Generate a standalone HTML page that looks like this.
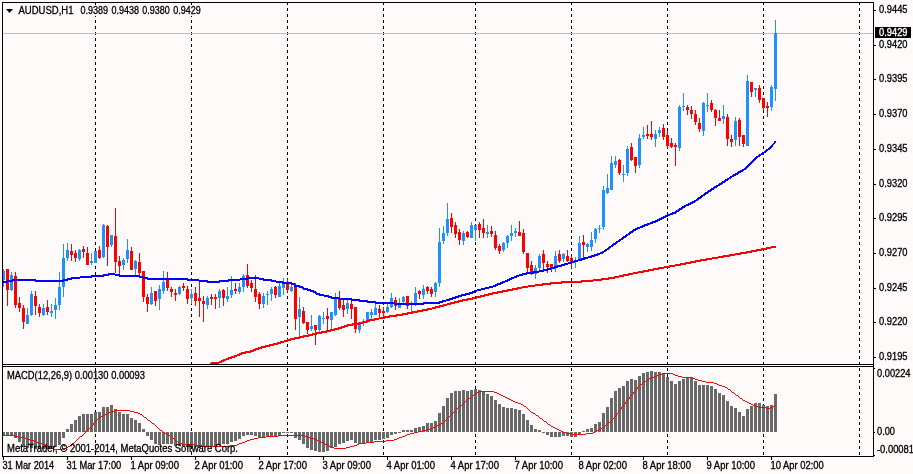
<!DOCTYPE html>
<html><head><meta charset="utf-8"><title>AUDUSD,H1</title>
<style>html,body{margin:0;padding:0;background:#FFFAFA;overflow:hidden}svg{display:block}text{font-family:"Liberation Sans",sans-serif;font-size:10px;fill:#000;stroke:#000;stroke-width:0.3px}.c{shape-rendering:crispEdges}</style></head><body>
<svg width="913" height="474" viewBox="0 0 913 474">
<rect x="0" y="0" width="913" height="474" fill="#FFFAFA"/>
<g class="c">
<line x1="95.5" y1="3" x2="95.5" y2="364" stroke="#000" stroke-width="1" stroke-dasharray="3 3" stroke-dashoffset="1"/>
<line x1="95.5" y1="367" x2="95.5" y2="456" stroke="#000" stroke-width="1" stroke-dasharray="3 3" stroke-dashoffset="5"/>
<line x1="191.5" y1="3" x2="191.5" y2="364" stroke="#000" stroke-width="1" stroke-dasharray="3 3" stroke-dashoffset="1"/>
<line x1="191.5" y1="367" x2="191.5" y2="456" stroke="#000" stroke-width="1" stroke-dasharray="3 3" stroke-dashoffset="5"/>
<line x1="287.5" y1="3" x2="287.5" y2="364" stroke="#000" stroke-width="1" stroke-dasharray="3 3" stroke-dashoffset="1"/>
<line x1="287.5" y1="367" x2="287.5" y2="456" stroke="#000" stroke-width="1" stroke-dasharray="3 3" stroke-dashoffset="5"/>
<line x1="383.5" y1="3" x2="383.5" y2="364" stroke="#000" stroke-width="1" stroke-dasharray="3 3" stroke-dashoffset="1"/>
<line x1="383.5" y1="367" x2="383.5" y2="456" stroke="#000" stroke-width="1" stroke-dasharray="3 3" stroke-dashoffset="5"/>
<line x1="475.5" y1="3" x2="475.5" y2="364" stroke="#000" stroke-width="1" stroke-dasharray="3 3" stroke-dashoffset="1"/>
<line x1="475.5" y1="367" x2="475.5" y2="456" stroke="#000" stroke-width="1" stroke-dasharray="3 3" stroke-dashoffset="5"/>
<line x1="571.5" y1="3" x2="571.5" y2="364" stroke="#000" stroke-width="1" stroke-dasharray="3 3" stroke-dashoffset="1"/>
<line x1="571.5" y1="367" x2="571.5" y2="456" stroke="#000" stroke-width="1" stroke-dasharray="3 3" stroke-dashoffset="5"/>
<line x1="667.5" y1="3" x2="667.5" y2="364" stroke="#000" stroke-width="1" stroke-dasharray="3 3" stroke-dashoffset="1"/>
<line x1="667.5" y1="367" x2="667.5" y2="456" stroke="#000" stroke-width="1" stroke-dasharray="3 3" stroke-dashoffset="5"/>
<line x1="763.5" y1="3" x2="763.5" y2="364" stroke="#000" stroke-width="1" stroke-dasharray="3 3" stroke-dashoffset="1"/>
<line x1="763.5" y1="367" x2="763.5" y2="456" stroke="#000" stroke-width="1" stroke-dasharray="3 3" stroke-dashoffset="5"/>
<line x1="859.5" y1="3" x2="859.5" y2="364" stroke="#000" stroke-width="1" stroke-dasharray="3 3" stroke-dashoffset="1"/>
<line x1="859.5" y1="367" x2="859.5" y2="456" stroke="#000" stroke-width="1" stroke-dasharray="3 3" stroke-dashoffset="5"/>
<rect x="3" y="33" width="870" height="1" fill="#C0C0C0"/>
<rect x="3" y="269" width="1" height="18" fill="#1E90FF"/>
<rect x="3" y="271" width="2" height="9" fill="#1E90FF"/>
<rect x="7" y="269" width="1" height="37" fill="#FF0000"/>
<rect x="6" y="269" width="3" height="21" fill="#FF0000"/>
<rect x="11" y="272" width="1" height="19" fill="#1E90FF"/>
<rect x="10" y="275" width="3" height="15" fill="#1E90FF"/>
<rect x="15" y="272" width="1" height="36" fill="#FF0000"/>
<rect x="14" y="276" width="3" height="29" fill="#FF0000"/>
<rect x="19" y="297" width="1" height="15" fill="#FF0000"/>
<rect x="18" y="303" width="3" height="5" fill="#FF0000"/>
<rect x="23" y="305" width="1" height="24" fill="#FF0000"/>
<rect x="22" y="308" width="3" height="14" fill="#FF0000"/>
<rect x="27" y="308" width="1" height="16" fill="#1E90FF"/>
<rect x="26" y="315" width="3" height="9" fill="#1E90FF"/>
<rect x="31" y="291" width="1" height="25" fill="#1E90FF"/>
<rect x="30" y="294" width="3" height="21" fill="#1E90FF"/>
<rect x="35" y="291" width="1" height="24" fill="#FF0000"/>
<rect x="34" y="296" width="3" height="10" fill="#FF0000"/>
<rect x="39" y="304" width="1" height="13" fill="#FF0000"/>
<rect x="38" y="307" width="3" height="6" fill="#FF0000"/>
<rect x="43" y="304" width="1" height="12" fill="#1E90FF"/>
<rect x="42" y="308" width="3" height="7" fill="#1E90FF"/>
<rect x="47" y="300" width="1" height="15" fill="#FF0000"/>
<rect x="46" y="307" width="3" height="5" fill="#FF0000"/>
<rect x="51" y="304" width="1" height="13" fill="#1E90FF"/>
<rect x="50" y="311" width="3" height="2" fill="#1E90FF"/>
<rect x="55" y="298" width="1" height="21" fill="#1E90FF"/>
<rect x="54" y="305" width="3" height="5" fill="#1E90FF"/>
<rect x="59" y="272" width="1" height="38" fill="#1E90FF"/>
<rect x="58" y="287" width="3" height="18" fill="#1E90FF"/>
<rect x="63" y="244" width="1" height="53" fill="#1E90FF"/>
<rect x="62" y="258" width="3" height="29" fill="#1E90FF"/>
<rect x="67" y="243" width="1" height="18" fill="#1E90FF"/>
<rect x="66" y="250" width="3" height="8" fill="#1E90FF"/>
<rect x="71" y="244" width="1" height="17" fill="#FF0000"/>
<rect x="70" y="251" width="3" height="4" fill="#FF0000"/>
<rect x="75" y="250" width="1" height="12" fill="#FF0000"/>
<rect x="74" y="253" width="3" height="5" fill="#FF0000"/>
<rect x="79" y="249" width="1" height="12" fill="#1E90FF"/>
<rect x="78" y="250" width="3" height="9" fill="#1E90FF"/>
<rect x="83" y="246" width="1" height="12" fill="#FF0000"/>
<rect x="82" y="249" width="3" height="3" fill="#FF0000"/>
<rect x="87" y="247" width="1" height="18" fill="#FF0000"/>
<rect x="86" y="253" width="3" height="12" fill="#FF0000"/>
<rect x="91" y="253" width="1" height="12" fill="#1E90FF"/>
<rect x="90" y="261" width="3" height="2" fill="#1E90FF"/>
<rect x="95" y="251" width="1" height="12" fill="#1E90FF"/>
<rect x="94" y="251" width="3" height="12" fill="#1E90FF"/>
<rect x="99" y="246" width="1" height="13" fill="#FF0000"/>
<rect x="98" y="250" width="3" height="8" fill="#FF0000"/>
<rect x="103" y="224" width="1" height="34" fill="#1E90FF"/>
<rect x="102" y="225" width="3" height="32" fill="#1E90FF"/>
<rect x="107" y="225" width="1" height="41" fill="#FF0000"/>
<rect x="106" y="226" width="3" height="21" fill="#FF0000"/>
<rect x="111" y="235" width="1" height="12" fill="#1E90FF"/>
<rect x="110" y="235" width="3" height="10" fill="#1E90FF"/>
<rect x="115" y="208" width="1" height="65" fill="#FF0000"/>
<rect x="114" y="236" width="3" height="26" fill="#FF0000"/>
<rect x="119" y="256" width="1" height="19" fill="#FF0000"/>
<rect x="118" y="261" width="3" height="5" fill="#FF0000"/>
<rect x="123" y="258" width="1" height="12" fill="#1E90FF"/>
<rect x="122" y="260" width="3" height="5" fill="#1E90FF"/>
<rect x="127" y="239" width="1" height="24" fill="#1E90FF"/>
<rect x="126" y="250" width="3" height="9" fill="#1E90FF"/>
<rect x="131" y="247" width="1" height="23" fill="#FF0000"/>
<rect x="130" y="251" width="3" height="19" fill="#FF0000"/>
<rect x="135" y="260" width="1" height="15" fill="#1E90FF"/>
<rect x="134" y="261" width="3" height="8" fill="#1E90FF"/>
<rect x="139" y="253" width="1" height="22" fill="#FF0000"/>
<rect x="138" y="262" width="3" height="11" fill="#FF0000"/>
<rect x="143" y="271" width="1" height="31" fill="#FF0000"/>
<rect x="142" y="271" width="3" height="26" fill="#FF0000"/>
<rect x="147" y="294" width="1" height="18" fill="#FF0000"/>
<rect x="146" y="297" width="3" height="7" fill="#FF0000"/>
<rect x="151" y="287" width="1" height="18" fill="#1E90FF"/>
<rect x="150" y="293" width="3" height="11" fill="#1E90FF"/>
<rect x="155" y="291" width="1" height="15" fill="#FF0000"/>
<rect x="154" y="291" width="3" height="10" fill="#FF0000"/>
<rect x="159" y="285" width="1" height="25" fill="#1E90FF"/>
<rect x="158" y="289" width="3" height="10" fill="#1E90FF"/>
<rect x="163" y="271" width="1" height="23" fill="#1E90FF"/>
<rect x="162" y="282" width="3" height="9" fill="#1E90FF"/>
<rect x="167" y="272" width="1" height="19" fill="#FF0000"/>
<rect x="166" y="279" width="3" height="9" fill="#FF0000"/>
<rect x="171" y="287" width="1" height="10" fill="#FF0000"/>
<rect x="170" y="289" width="3" height="3" fill="#FF0000"/>
<rect x="175" y="289" width="1" height="12" fill="#FF0000"/>
<rect x="174" y="293" width="3" height="2" fill="#FF0000"/>
<rect x="179" y="286" width="1" height="9" fill="#1E90FF"/>
<rect x="178" y="287" width="3" height="7" fill="#1E90FF"/>
<rect x="183" y="283" width="1" height="8" fill="#FF0000"/>
<rect x="182" y="286" width="3" height="2" fill="#FF0000"/>
<rect x="187" y="286" width="1" height="18" fill="#FF0000"/>
<rect x="186" y="289" width="3" height="10" fill="#FF0000"/>
<rect x="191" y="289" width="1" height="15" fill="#1E90FF"/>
<rect x="190" y="294" width="3" height="4" fill="#1E90FF"/>
<rect x="195" y="287" width="1" height="19" fill="#FF0000"/>
<rect x="194" y="293" width="3" height="8" fill="#FF0000"/>
<rect x="199" y="282" width="1" height="35" fill="#FF0000"/>
<rect x="198" y="298" width="3" height="3" fill="#FF0000"/>
<rect x="203" y="296" width="1" height="26" fill="#FF0000"/>
<rect x="202" y="301" width="3" height="3" fill="#FF0000"/>
<rect x="207" y="296" width="1" height="13" fill="#1E90FF"/>
<rect x="206" y="298" width="3" height="7" fill="#1E90FF"/>
<rect x="211" y="294" width="1" height="11" fill="#FF0000"/>
<rect x="210" y="297" width="3" height="2" fill="#FF0000"/>
<rect x="215" y="294" width="1" height="15" fill="#FF0000"/>
<rect x="214" y="297" width="3" height="2" fill="#FF0000"/>
<rect x="219" y="289" width="1" height="19" fill="#1E90FF"/>
<rect x="218" y="291" width="3" height="7" fill="#1E90FF"/>
<rect x="223" y="289" width="1" height="17" fill="#FF0000"/>
<rect x="222" y="290" width="3" height="8" fill="#FF0000"/>
<rect x="227" y="287" width="1" height="15" fill="#1E90FF"/>
<rect x="226" y="296" width="3" height="3" fill="#1E90FF"/>
<rect x="231" y="276" width="1" height="22" fill="#1E90FF"/>
<rect x="230" y="290" width="3" height="5" fill="#1E90FF"/>
<rect x="235" y="283" width="1" height="11" fill="#FF0000"/>
<rect x="234" y="289" width="3" height="2" fill="#FF0000"/>
<rect x="239" y="283" width="1" height="11" fill="#1E90FF"/>
<rect x="238" y="287" width="3" height="5" fill="#1E90FF"/>
<rect x="243" y="274" width="1" height="18" fill="#1E90FF"/>
<rect x="242" y="276" width="3" height="11" fill="#1E90FF"/>
<rect x="247" y="264" width="1" height="24" fill="#FF0000"/>
<rect x="246" y="275" width="3" height="11" fill="#FF0000"/>
<rect x="251" y="280" width="1" height="12" fill="#FF0000"/>
<rect x="250" y="283" width="3" height="5" fill="#FF0000"/>
<rect x="255" y="275" width="1" height="27" fill="#FF0000"/>
<rect x="254" y="289" width="3" height="8" fill="#FF0000"/>
<rect x="259" y="292" width="1" height="17" fill="#FF0000"/>
<rect x="258" y="294" width="3" height="10" fill="#FF0000"/>
<rect x="263" y="293" width="1" height="15" fill="#1E90FF"/>
<rect x="262" y="296" width="3" height="8" fill="#1E90FF"/>
<rect x="267" y="291" width="1" height="14" fill="#1E90FF"/>
<rect x="266" y="294" width="3" height="1" fill="#1E90FF"/>
<rect x="271" y="287" width="1" height="14" fill="#1E90FF"/>
<rect x="270" y="289" width="3" height="5" fill="#1E90FF"/>
<rect x="275" y="286" width="1" height="12" fill="#FF0000"/>
<rect x="274" y="287" width="3" height="8" fill="#FF0000"/>
<rect x="279" y="283" width="1" height="14" fill="#1E90FF"/>
<rect x="278" y="286" width="3" height="11" fill="#1E90FF"/>
<rect x="283" y="278" width="1" height="17" fill="#1E90FF"/>
<rect x="282" y="283" width="3" height="5" fill="#1E90FF"/>
<rect x="287" y="279" width="1" height="13" fill="#FF0000"/>
<rect x="286" y="283" width="3" height="7" fill="#FF0000"/>
<rect x="291" y="285" width="1" height="7" fill="#1E90FF"/>
<rect x="290" y="287" width="3" height="4" fill="#1E90FF"/>
<rect x="295" y="283" width="1" height="47" fill="#FF0000"/>
<rect x="294" y="286" width="3" height="33" fill="#FF0000"/>
<rect x="299" y="297" width="1" height="39" fill="#1E90FF"/>
<rect x="298" y="309" width="3" height="8" fill="#1E90FF"/>
<rect x="303" y="307" width="1" height="17" fill="#FF0000"/>
<rect x="302" y="311" width="3" height="12" fill="#FF0000"/>
<rect x="307" y="322" width="1" height="12" fill="#FF0000"/>
<rect x="306" y="322" width="3" height="8" fill="#FF0000"/>
<rect x="311" y="315" width="1" height="16" fill="#1E90FF"/>
<rect x="310" y="326" width="3" height="3" fill="#1E90FF"/>
<rect x="315" y="325" width="1" height="20" fill="#FF0000"/>
<rect x="314" y="325" width="3" height="5" fill="#FF0000"/>
<rect x="319" y="315" width="1" height="17" fill="#1E90FF"/>
<rect x="318" y="316" width="3" height="14" fill="#1E90FF"/>
<rect x="323" y="312" width="1" height="12" fill="#1E90FF"/>
<rect x="322" y="318" width="3" height="1" fill="#1E90FF"/>
<rect x="327" y="308" width="1" height="22" fill="#FF0000"/>
<rect x="326" y="316" width="3" height="3" fill="#FF0000"/>
<rect x="331" y="312" width="1" height="17" fill="#1E90FF"/>
<rect x="330" y="312" width="3" height="8" fill="#1E90FF"/>
<rect x="335" y="293" width="1" height="23" fill="#1E90FF"/>
<rect x="334" y="299" width="3" height="16" fill="#1E90FF"/>
<rect x="339" y="291" width="1" height="19" fill="#FF0000"/>
<rect x="338" y="299" width="3" height="9" fill="#FF0000"/>
<rect x="343" y="300" width="1" height="17" fill="#FF0000"/>
<rect x="342" y="305" width="3" height="5" fill="#FF0000"/>
<rect x="347" y="300" width="1" height="14" fill="#1E90FF"/>
<rect x="346" y="303" width="3" height="6" fill="#1E90FF"/>
<rect x="351" y="301" width="1" height="18" fill="#FF0000"/>
<rect x="350" y="304" width="3" height="5" fill="#FF0000"/>
<rect x="355" y="307" width="1" height="26" fill="#FF0000"/>
<rect x="354" y="307" width="3" height="22" fill="#FF0000"/>
<rect x="359" y="322" width="1" height="11" fill="#1E90FF"/>
<rect x="358" y="322" width="3" height="8" fill="#1E90FF"/>
<rect x="363" y="319" width="1" height="7" fill="#1E90FF"/>
<rect x="362" y="321" width="3" height="2" fill="#1E90FF"/>
<rect x="367" y="312" width="1" height="11" fill="#1E90FF"/>
<rect x="366" y="312" width="3" height="8" fill="#1E90FF"/>
<rect x="371" y="309" width="1" height="10" fill="#1E90FF"/>
<rect x="370" y="312" width="3" height="3" fill="#1E90FF"/>
<rect x="375" y="304" width="1" height="11" fill="#1E90FF"/>
<rect x="374" y="308" width="3" height="7" fill="#1E90FF"/>
<rect x="379" y="305" width="1" height="13" fill="#FF0000"/>
<rect x="378" y="309" width="3" height="4" fill="#FF0000"/>
<rect x="383" y="307" width="1" height="10" fill="#FF0000"/>
<rect x="382" y="311" width="3" height="2" fill="#FF0000"/>
<rect x="387" y="304" width="1" height="9" fill="#1E90FF"/>
<rect x="386" y="307" width="3" height="5" fill="#1E90FF"/>
<rect x="391" y="293" width="1" height="15" fill="#1E90FF"/>
<rect x="390" y="298" width="3" height="9" fill="#1E90FF"/>
<rect x="395" y="297" width="1" height="13" fill="#FF0000"/>
<rect x="394" y="300" width="3" height="6" fill="#FF0000"/>
<rect x="399" y="298" width="1" height="10" fill="#1E90FF"/>
<rect x="398" y="303" width="3" height="5" fill="#1E90FF"/>
<rect x="403" y="296" width="1" height="9" fill="#1E90FF"/>
<rect x="402" y="297" width="3" height="5" fill="#1E90FF"/>
<rect x="407" y="296" width="1" height="13" fill="#FF0000"/>
<rect x="406" y="296" width="3" height="10" fill="#FF0000"/>
<rect x="411" y="301" width="1" height="11" fill="#1E90FF"/>
<rect x="410" y="303" width="3" height="1" fill="#1E90FF"/>
<rect x="415" y="287" width="1" height="19" fill="#1E90FF"/>
<rect x="414" y="293" width="3" height="10" fill="#1E90FF"/>
<rect x="419" y="290" width="1" height="9" fill="#FF0000"/>
<rect x="418" y="291" width="3" height="3" fill="#FF0000"/>
<rect x="423" y="285" width="1" height="14" fill="#1E90FF"/>
<rect x="422" y="289" width="3" height="6" fill="#1E90FF"/>
<rect x="427" y="286" width="1" height="8" fill="#FF0000"/>
<rect x="426" y="287" width="3" height="4" fill="#FF0000"/>
<rect x="431" y="287" width="1" height="10" fill="#FF0000"/>
<rect x="430" y="289" width="3" height="5" fill="#FF0000"/>
<rect x="435" y="282" width="1" height="15" fill="#1E90FF"/>
<rect x="434" y="283" width="3" height="9" fill="#1E90FF"/>
<rect x="439" y="228" width="1" height="59" fill="#1E90FF"/>
<rect x="438" y="242" width="3" height="41" fill="#1E90FF"/>
<rect x="443" y="226" width="1" height="18" fill="#1E90FF"/>
<rect x="442" y="233" width="3" height="8" fill="#1E90FF"/>
<rect x="447" y="203" width="1" height="33" fill="#1E90FF"/>
<rect x="446" y="219" width="3" height="14" fill="#1E90FF"/>
<rect x="451" y="213" width="1" height="20" fill="#FF0000"/>
<rect x="450" y="218" width="3" height="9" fill="#FF0000"/>
<rect x="455" y="222" width="1" height="16" fill="#FF0000"/>
<rect x="454" y="225" width="3" height="9" fill="#FF0000"/>
<rect x="459" y="229" width="1" height="16" fill="#FF0000"/>
<rect x="458" y="232" width="3" height="8" fill="#FF0000"/>
<rect x="463" y="231" width="1" height="14" fill="#1E90FF"/>
<rect x="462" y="233" width="3" height="8" fill="#1E90FF"/>
<rect x="467" y="231" width="1" height="7" fill="#FF0000"/>
<rect x="466" y="232" width="3" height="5" fill="#FF0000"/>
<rect x="471" y="222" width="1" height="16" fill="#1E90FF"/>
<rect x="470" y="225" width="3" height="13" fill="#1E90FF"/>
<rect x="475" y="225" width="1" height="16" fill="#1E90FF"/>
<rect x="474" y="225" width="3" height="5" fill="#1E90FF"/>
<rect x="479" y="222" width="1" height="16" fill="#FF0000"/>
<rect x="478" y="224" width="3" height="6" fill="#FF0000"/>
<rect x="483" y="219" width="1" height="19" fill="#FF0000"/>
<rect x="482" y="228" width="3" height="5" fill="#FF0000"/>
<rect x="487" y="225" width="1" height="13" fill="#1E90FF"/>
<rect x="486" y="232" width="3" height="2" fill="#1E90FF"/>
<rect x="491" y="226" width="1" height="11" fill="#FF0000"/>
<rect x="490" y="231" width="3" height="3" fill="#FF0000"/>
<rect x="495" y="231" width="1" height="19" fill="#FF0000"/>
<rect x="494" y="235" width="3" height="13" fill="#FF0000"/>
<rect x="499" y="244" width="1" height="10" fill="#FF0000"/>
<rect x="498" y="246" width="3" height="5" fill="#FF0000"/>
<rect x="503" y="242" width="1" height="10" fill="#1E90FF"/>
<rect x="502" y="243" width="3" height="7" fill="#1E90FF"/>
<rect x="507" y="235" width="1" height="13" fill="#1E90FF"/>
<rect x="506" y="236" width="3" height="7" fill="#1E90FF"/>
<rect x="511" y="225" width="1" height="16" fill="#1E90FF"/>
<rect x="510" y="233" width="3" height="3" fill="#1E90FF"/>
<rect x="515" y="228" width="1" height="9" fill="#1E90FF"/>
<rect x="514" y="231" width="3" height="2" fill="#1E90FF"/>
<rect x="519" y="221" width="1" height="15" fill="#FF0000"/>
<rect x="518" y="232" width="3" height="4" fill="#FF0000"/>
<rect x="523" y="229" width="1" height="25" fill="#FF0000"/>
<rect x="522" y="233" width="3" height="19" fill="#FF0000"/>
<rect x="527" y="253" width="1" height="20" fill="#FF0000"/>
<rect x="526" y="253" width="3" height="15" fill="#FF0000"/>
<rect x="531" y="261" width="1" height="14" fill="#FF0000"/>
<rect x="530" y="265" width="3" height="7" fill="#FF0000"/>
<rect x="535" y="265" width="1" height="14" fill="#1E90FF"/>
<rect x="534" y="268" width="3" height="6" fill="#1E90FF"/>
<rect x="539" y="254" width="1" height="16" fill="#1E90FF"/>
<rect x="538" y="256" width="3" height="12" fill="#1E90FF"/>
<rect x="543" y="250" width="1" height="19" fill="#FF0000"/>
<rect x="542" y="254" width="3" height="9" fill="#FF0000"/>
<rect x="547" y="261" width="1" height="12" fill="#FF0000"/>
<rect x="546" y="264" width="3" height="3" fill="#FF0000"/>
<rect x="551" y="264" width="1" height="8" fill="#FF0000"/>
<rect x="550" y="264" width="3" height="4" fill="#FF0000"/>
<rect x="555" y="251" width="1" height="21" fill="#1E90FF"/>
<rect x="554" y="256" width="3" height="10" fill="#1E90FF"/>
<rect x="559" y="250" width="1" height="13" fill="#FF0000"/>
<rect x="558" y="254" width="3" height="7" fill="#FF0000"/>
<rect x="563" y="253" width="1" height="9" fill="#1E90FF"/>
<rect x="562" y="254" width="3" height="5" fill="#1E90FF"/>
<rect x="567" y="250" width="1" height="12" fill="#FF0000"/>
<rect x="566" y="256" width="3" height="5" fill="#FF0000"/>
<rect x="571" y="256" width="1" height="12" fill="#FF0000"/>
<rect x="570" y="258" width="3" height="4" fill="#FF0000"/>
<rect x="575" y="257" width="1" height="11" fill="#1E90FF"/>
<rect x="574" y="261" width="3" height="1" fill="#1E90FF"/>
<rect x="579" y="236" width="1" height="24" fill="#1E90FF"/>
<rect x="578" y="243" width="3" height="16" fill="#1E90FF"/>
<rect x="583" y="235" width="1" height="23" fill="#FF0000"/>
<rect x="582" y="242" width="3" height="3" fill="#FF0000"/>
<rect x="587" y="243" width="1" height="9" fill="#1E90FF"/>
<rect x="586" y="244" width="3" height="3" fill="#1E90FF"/>
<rect x="591" y="232" width="1" height="19" fill="#1E90FF"/>
<rect x="590" y="240" width="3" height="7" fill="#1E90FF"/>
<rect x="595" y="228" width="1" height="15" fill="#1E90FF"/>
<rect x="594" y="229" width="3" height="10" fill="#1E90FF"/>
<rect x="599" y="225" width="1" height="8" fill="#1E90FF"/>
<rect x="598" y="228" width="3" height="1" fill="#1E90FF"/>
<rect x="603" y="186" width="1" height="44" fill="#1E90FF"/>
<rect x="602" y="190" width="3" height="37" fill="#1E90FF"/>
<rect x="607" y="174" width="1" height="20" fill="#1E90FF"/>
<rect x="606" y="188" width="3" height="5" fill="#1E90FF"/>
<rect x="611" y="156" width="1" height="34" fill="#1E90FF"/>
<rect x="610" y="163" width="3" height="27" fill="#1E90FF"/>
<rect x="615" y="156" width="1" height="12" fill="#1E90FF"/>
<rect x="614" y="161" width="3" height="4" fill="#1E90FF"/>
<rect x="619" y="159" width="1" height="16" fill="#FF0000"/>
<rect x="618" y="160" width="3" height="13" fill="#FF0000"/>
<rect x="623" y="165" width="1" height="17" fill="#1E90FF"/>
<rect x="622" y="174" width="3" height="1" fill="#1E90FF"/>
<rect x="627" y="146" width="1" height="30" fill="#1E90FF"/>
<rect x="626" y="149" width="3" height="24" fill="#1E90FF"/>
<rect x="631" y="143" width="1" height="18" fill="#FF0000"/>
<rect x="630" y="147" width="3" height="13" fill="#FF0000"/>
<rect x="635" y="157" width="1" height="16" fill="#FF0000"/>
<rect x="634" y="157" width="3" height="9" fill="#FF0000"/>
<rect x="639" y="134" width="1" height="34" fill="#1E90FF"/>
<rect x="638" y="138" width="3" height="27" fill="#1E90FF"/>
<rect x="643" y="127" width="1" height="12" fill="#1E90FF"/>
<rect x="642" y="135" width="3" height="2" fill="#1E90FF"/>
<rect x="647" y="125" width="1" height="14" fill="#FF0000"/>
<rect x="646" y="134" width="3" height="2" fill="#FF0000"/>
<rect x="651" y="121" width="1" height="19" fill="#FF0000"/>
<rect x="650" y="134" width="3" height="3" fill="#FF0000"/>
<rect x="655" y="130" width="1" height="17" fill="#1E90FF"/>
<rect x="654" y="134" width="3" height="5" fill="#1E90FF"/>
<rect x="659" y="127" width="1" height="10" fill="#1E90FF"/>
<rect x="658" y="130" width="3" height="3" fill="#1E90FF"/>
<rect x="663" y="124" width="1" height="16" fill="#FF0000"/>
<rect x="662" y="128" width="3" height="9" fill="#FF0000"/>
<rect x="667" y="131" width="1" height="17" fill="#FF0000"/>
<rect x="666" y="135" width="3" height="11" fill="#FF0000"/>
<rect x="671" y="138" width="1" height="10" fill="#FF0000"/>
<rect x="670" y="143" width="3" height="4" fill="#FF0000"/>
<rect x="675" y="143" width="1" height="23" fill="#FF0000"/>
<rect x="674" y="145" width="3" height="2" fill="#FF0000"/>
<rect x="679" y="105" width="1" height="46" fill="#1E90FF"/>
<rect x="678" y="107" width="3" height="41" fill="#1E90FF"/>
<rect x="683" y="93" width="1" height="18" fill="#1E90FF"/>
<rect x="682" y="106" width="3" height="1" fill="#1E90FF"/>
<rect x="687" y="105" width="1" height="10" fill="#FF0000"/>
<rect x="686" y="107" width="3" height="3" fill="#FF0000"/>
<rect x="691" y="106" width="1" height="13" fill="#FF0000"/>
<rect x="690" y="110" width="3" height="4" fill="#FF0000"/>
<rect x="695" y="110" width="1" height="15" fill="#FF0000"/>
<rect x="694" y="114" width="3" height="8" fill="#FF0000"/>
<rect x="699" y="118" width="1" height="14" fill="#FF0000"/>
<rect x="698" y="123" width="3" height="6" fill="#FF0000"/>
<rect x="703" y="102" width="1" height="34" fill="#1E90FF"/>
<rect x="702" y="103" width="3" height="28" fill="#1E90FF"/>
<rect x="707" y="93" width="1" height="19" fill="#1E90FF"/>
<rect x="706" y="105" width="3" height="1" fill="#1E90FF"/>
<rect x="711" y="100" width="1" height="12" fill="#FF0000"/>
<rect x="710" y="103" width="3" height="7" fill="#FF0000"/>
<rect x="715" y="109" width="1" height="17" fill="#FF0000"/>
<rect x="714" y="110" width="3" height="8" fill="#FF0000"/>
<rect x="719" y="110" width="1" height="11" fill="#FF0000"/>
<rect x="718" y="118" width="3" height="3" fill="#FF0000"/>
<rect x="723" y="105" width="1" height="19" fill="#1E90FF"/>
<rect x="722" y="116" width="3" height="3" fill="#1E90FF"/>
<rect x="727" y="114" width="1" height="32" fill="#FF0000"/>
<rect x="726" y="117" width="3" height="22" fill="#FF0000"/>
<rect x="731" y="135" width="1" height="12" fill="#FF0000"/>
<rect x="730" y="139" width="3" height="3" fill="#FF0000"/>
<rect x="735" y="117" width="1" height="29" fill="#1E90FF"/>
<rect x="734" y="121" width="3" height="19" fill="#1E90FF"/>
<rect x="739" y="118" width="1" height="28" fill="#FF0000"/>
<rect x="738" y="120" width="3" height="17" fill="#FF0000"/>
<rect x="743" y="135" width="1" height="12" fill="#FF0000"/>
<rect x="742" y="135" width="3" height="9" fill="#FF0000"/>
<rect x="747" y="75" width="1" height="71" fill="#1E90FF"/>
<rect x="746" y="81" width="3" height="65" fill="#1E90FF"/>
<rect x="751" y="82" width="1" height="15" fill="#FF0000"/>
<rect x="750" y="82" width="3" height="10" fill="#FF0000"/>
<rect x="755" y="88" width="1" height="9" fill="#1E90FF"/>
<rect x="754" y="88" width="3" height="2" fill="#1E90FF"/>
<rect x="759" y="85" width="1" height="18" fill="#FF0000"/>
<rect x="758" y="88" width="3" height="12" fill="#FF0000"/>
<rect x="763" y="98" width="1" height="12" fill="#FF0000"/>
<rect x="762" y="98" width="3" height="10" fill="#FF0000"/>
<rect x="767" y="102" width="1" height="15" fill="#FF0000"/>
<rect x="766" y="106" width="3" height="2" fill="#FF0000"/>
<rect x="771" y="85" width="1" height="26" fill="#1E90FF"/>
<rect x="770" y="87" width="3" height="20" fill="#1E90FF"/>
<rect x="775" y="20" width="1" height="81" fill="#1E90FF"/>
<rect x="774" y="33" width="3" height="56" fill="#1E90FF"/>
</g>
<path class="c" fill="#FF0000" d="M210 363h1v2h-1zM211 362h8v2h-8zM219 361h2v2h-2zM221 360h1v3h-1zM222 360h1v2h-1zM223 359h1v3h-1zM224 359h2v2h-2zM226 358h2v2h-2zM228 357h1v3h-1zM229 357h2v2h-2zM231 356h1v3h-1zM232 356h2v2h-2zM234 355h1v3h-1zM235 355h2v2h-2zM237 354h2v2h-2zM239 353h1v3h-1zM240 353h1v2h-1zM241 352h1v3h-1zM242 352h3v2h-3zM245 351h1v3h-1zM246 351h4v2h-4zM250 350h1v3h-1zM251 350h2v2h-2zM253 349h1v3h-1zM254 349h1v2h-1zM255 348h1v3h-1zM256 348h2v2h-2zM258 347h1v3h-1zM259 347h2v2h-2zM261 346h1v3h-1zM262 346h3v2h-3zM265 345h1v3h-1zM266 345h3v2h-3zM269 344h1v3h-1zM270 344h3v2h-3zM273 343h1v3h-1zM274 343h3v2h-3zM277 342h1v3h-1zM278 342h2v2h-2zM280 341h1v3h-1zM281 341h3v2h-3zM284 340h3v2h-3zM287 339h1v3h-1zM288 339h2v2h-2zM290 338h1v3h-1zM291 338h3v2h-3zM294 337h1v3h-1zM295 337h4v2h-4zM299 336h1v3h-1zM300 336h3v2h-3zM303 335h1v3h-1zM304 335h4v2h-4zM308 334h1v3h-1zM309 334h3v2h-3zM312 333h1v3h-1zM313 333h3v2h-3zM316 332h1v3h-1zM317 332h4v2h-4zM321 331h1v3h-1zM322 331h4v2h-4zM326 330h1v3h-1zM327 330h3v2h-3zM330 329h1v3h-1zM331 329h3v2h-3zM334 328h1v3h-1zM335 328h3v2h-3zM338 327h1v3h-1zM339 327h2v2h-2zM341 326h1v3h-1zM342 326h2v2h-2zM344 325h1v3h-1zM345 325h2v2h-2zM347 324h1v3h-1zM348 324h4v2h-4zM352 323h1v3h-1zM353 323h6v2h-6zM359 322h1v3h-1zM360 322h3v2h-3zM363 321h3v2h-3zM366 320h1v3h-1zM367 320h2v2h-2zM369 319h1v3h-1zM370 319h4v2h-4zM374 318h1v3h-1zM375 318h4v2h-4zM379 317h5v2h-5zM384 316h1v3h-1zM385 316h4v2h-4zM389 315h1v3h-1zM390 315h6v2h-6zM396 314h1v3h-1zM397 314h5v2h-5zM402 313h1v3h-1zM403 313h4v2h-4zM407 312h1v3h-1zM408 312h4v2h-4zM412 311h1v3h-1zM413 311h4v2h-4zM417 310h1v3h-1zM418 310h4v2h-4zM422 309h1v3h-1zM423 309h4v2h-4zM427 308h1v3h-1zM428 308h4v2h-4zM432 307h3v2h-3zM435 306h1v3h-1zM436 306h3v2h-3zM439 305h1v3h-1zM440 305h3v2h-3zM443 304h1v3h-1zM444 304h3v2h-3zM447 303h3v2h-3zM450 302h1v3h-1zM451 302h3v2h-3zM454 301h1v3h-1zM455 301h3v2h-3zM458 300h1v3h-1zM459 300h3v2h-3zM462 299h1v3h-1zM463 299h4v2h-4zM467 298h1v3h-1zM468 298h4v2h-4zM472 297h1v3h-1zM473 297h3v2h-3zM476 296h1v3h-1zM477 296h3v2h-3zM480 295h1v3h-1zM481 295h3v2h-3zM484 294h1v3h-1zM485 294h3v2h-3zM488 293h1v3h-1zM489 293h3v2h-3zM492 292h1v3h-1zM493 292h4v2h-4zM497 291h1v3h-1zM498 291h4v2h-4zM502 290h1v3h-1zM503 290h4v2h-4zM507 289h1v3h-1zM508 289h4v2h-4zM512 288h1v3h-1zM513 288h4v2h-4zM517 287h1v3h-1zM518 287h4v2h-4zM522 286h6v2h-6zM528 285h7v2h-7zM535 284h7v2h-7zM542 283h1v3h-1zM543 283h7v2h-7zM550 282h1v3h-1zM551 282h10v2h-10zM561 281h1v3h-1zM562 281h19v2h-19zM581 280h1v3h-1zM582 280h11v2h-11zM593 279h8v2h-8zM601 278h1v3h-1zM602 278h6v2h-6zM608 277h1v3h-1zM609 277h5v2h-5zM614 276h1v3h-1zM615 276h4v2h-4zM619 275h4v2h-4zM623 274h1v3h-1zM624 274h4v2h-4zM628 273h1v3h-1zM629 273h4v2h-4zM633 272h5v2h-5zM638 271h5v2h-5zM643 270h1v3h-1zM644 270h4v2h-4zM648 269h1v3h-1zM649 269h4v2h-4zM653 268h1v3h-1zM654 268h4v2h-4zM658 267h1v3h-1zM659 267h5v2h-5zM664 266h5v2h-5zM669 265h1v3h-1zM670 265h5v2h-5zM675 264h5v2h-5zM680 263h1v3h-1zM681 263h4v2h-4zM685 262h1v3h-1zM686 262h4v2h-4zM690 261h1v3h-1zM691 261h4v2h-4zM695 260h1v3h-1zM696 260h4v2h-4zM700 259h1v3h-1zM701 259h5v2h-5zM706 258h1v3h-1zM707 258h5v2h-5zM712 257h6v2h-6zM718 256h5v2h-5zM723 255h1v3h-1zM724 255h5v2h-5zM729 254h1v3h-1zM730 254h5v2h-5zM735 253h5v2h-5zM740 252h1v3h-1zM741 252h5v2h-5zM746 251h1v3h-1zM747 251h4v2h-4zM751 250h1v3h-1zM752 250h4v2h-4zM756 249h1v3h-1zM757 249h4v2h-4zM761 248h1v3h-1zM762 248h4v2h-4zM766 247h1v3h-1zM767 247h4v2h-4zM771 246h5v2h-5z"/>
<path class="c" fill="#0000FF" d="M3 281h4v2h-4zM7 280h1v3h-1zM8 280h4v2h-4zM12 279h1v3h-1zM13 279h22v2h-22zM35 279h1v3h-1zM36 280h27v2h-27zM63 279h1v3h-1zM64 279h3v2h-3zM67 278h1v3h-1zM68 278h3v2h-3zM71 277h1v3h-1zM72 277h8v2h-8zM80 276h11v2h-11zM91 275h1v3h-1zM92 275h11v2h-11zM103 274h1v3h-1zM104 274h4v2h-4zM108 273h1v3h-1zM109 273h6v2h-6zM115 274h4v2h-4zM119 274h1v3h-1zM120 275h19v2h-19zM139 275h1v3h-1zM140 276h3v2h-3zM143 277h4v2h-4zM147 277h1v3h-1zM148 278h39v2h-39zM187 278h1v3h-1zM188 279h11v2h-11zM199 280h8v2h-8zM207 280h1v3h-1zM208 281h11v2h-11zM219 280h1v3h-1zM220 280h8v2h-8zM228 279h1v3h-1zM229 279h11v2h-11zM240 278h7v2h-7zM247 277h1v3h-1zM248 277h11v2h-11zM259 278h4v2h-4zM263 278h1v3h-1zM264 279h7v2h-7zM271 279h1v3h-1zM272 280h4v2h-4zM276 281h6v2h-6zM282 281h1v3h-1zM283 282h8v2h-8zM291 282h1v3h-1zM292 283h2v2h-2zM294 283h1v4h-1zM295 285h4v2h-4zM299 285h1v3h-1zM300 286h2v2h-2zM302 286h1v3h-1zM303 287h1v3h-1zM304 288h3v2h-3zM307 288h1v3h-1zM308 289h2v2h-2zM310 289h1v3h-1zM311 290h2v2h-2zM313 290h1v3h-1zM314 291h1v2h-1zM315 291h1v3h-1zM316 292h1v3h-1zM317 293h2v2h-2zM319 293h1v3h-1zM320 294h4v2h-4zM324 295h4v2h-4zM328 295h1v3h-1zM329 296h2v2h-2zM331 296h1v3h-1zM332 297h7v2h-7zM339 297h1v3h-1zM340 298h11v2h-11zM351 298h1v3h-1zM352 299h7v2h-7zM359 299h1v3h-1zM360 300h7v2h-7zM367 300h1v3h-1zM368 301h7v2h-7zM375 301h1v3h-1zM376 302h19v2h-19zM395 303h28v2h-28zM423 302h1v3h-1zM424 302h15v2h-15zM439 301h1v3h-1zM440 301h2v2h-2zM442 300h1v3h-1zM443 300h3v2h-3zM446 299h3v2h-3zM449 298h1v3h-1zM450 298h2v2h-2zM452 297h1v3h-1zM453 297h2v2h-2zM455 296h1v3h-1zM456 296h2v2h-2zM458 295h1v3h-1zM459 295h2v2h-2zM461 294h1v3h-1zM462 294h3v2h-3zM465 293h1v3h-1zM466 293h3v2h-3zM469 292h1v3h-1zM470 292h2v2h-2zM472 291h1v3h-1zM473 291h1v2h-1zM474 290h1v3h-1zM475 290h2v2h-2zM477 289h4v2h-4zM481 288h4v2h-4zM485 287h4v2h-4zM489 286h4v2h-4zM493 285h2v2h-2zM495 284h1v3h-1zM496 284h1v2h-1zM497 283h1v3h-1zM498 283h2v2h-2zM500 282h1v3h-1zM501 282h1v2h-1zM502 281h1v3h-1zM503 281h2v2h-2zM505 280h2v2h-2zM507 279h1v3h-1zM508 279h1v2h-1zM509 278h1v3h-1zM510 278h1v2h-1zM511 277h1v3h-1zM512 277h2v2h-2zM514 276h2v2h-2zM516 275h1v3h-1zM517 275h2v2h-2zM519 274h3v2h-3zM522 273h1v3h-1zM523 273h3v2h-3zM526 272h1v3h-1zM527 272h6v2h-6zM533 271h1v3h-1zM534 271h5v2h-5zM539 270h4v2h-4zM543 269h1v3h-1zM544 269h3v2h-3zM547 268h1v3h-1zM548 268h2v2h-2zM550 267h1v3h-1zM551 267h3v2h-3zM554 266h1v3h-1zM555 266h2v2h-2zM557 265h1v3h-1zM558 265h3v2h-3zM561 264h1v3h-1zM562 264h2v2h-2zM564 263h1v3h-1zM565 263h3v2h-3zM568 262h3v2h-3zM571 261h1v3h-1zM572 261h2v2h-2zM574 260h1v3h-1zM575 260h3v2h-3zM578 259h3v2h-3zM581 258h1v3h-1zM582 258h2v2h-2zM584 257h1v3h-1zM585 257h3v2h-3zM588 256h3v2h-3zM591 255h1v3h-1zM592 255h2v2h-2zM594 254h1v3h-1zM595 254h2v2h-2zM597 253h1v3h-1zM598 253h2v2h-2zM600 252h2v2h-2zM602 251h1v3h-1zM603 251h1v2h-1zM604 250h1v2h-1zM605 249h1v3h-1zM606 249h1v2h-1zM607 248h1v2h-1zM608 247h1v3h-1zM609 246h1v3h-1zM610 246h1v2h-1zM611 245h1v2h-1zM612 244h1v3h-1zM613 243h1v3h-1zM614 243h1v2h-1zM615 242h1v3h-1zM616 241h1v3h-1zM617 241h1v2h-1zM618 240h1v2h-1zM619 239h1v3h-1zM620 239h1v2h-1zM621 238h1v2h-1zM622 237h1v3h-1zM623 236h1v3h-1zM624 236h1v2h-1zM625 235h1v3h-1zM626 234h1v3h-1zM627 234h1v2h-1zM628 233h1v2h-1zM629 232h1v3h-1zM630 231h1v3h-1zM631 231h1v2h-1zM632 230h1v3h-1zM633 229h1v3h-1zM634 229h1v2h-1zM635 228h1v3h-1zM636 228h1v2h-1zM637 227h1v3h-1zM638 227h2v2h-2zM640 226h2v2h-2zM642 225h1v3h-1zM643 225h1v2h-1zM644 224h1v3h-1zM645 224h2v2h-2zM647 223h1v3h-1zM648 223h2v2h-2zM650 222h2v2h-2zM652 221h1v3h-1zM653 221h2v2h-2zM655 220h1v3h-1zM656 220h1v2h-1zM657 219h1v3h-1zM658 219h1v2h-1zM659 218h1v3h-1zM660 218h1v2h-1zM661 217h1v3h-1zM662 217h1v2h-1zM663 216h1v3h-1zM664 216h1v2h-1zM665 215h1v3h-1zM666 215h1v2h-1zM667 214h1v3h-1zM668 214h2v2h-2zM670 213h2v2h-2zM672 212h1v3h-1zM673 212h2v2h-2zM675 211h1v3h-1zM676 210h1v3h-1zM677 210h1v2h-1zM678 209h1v3h-1zM679 208h1v3h-1zM680 208h1v2h-1zM681 207h1v3h-1zM682 206h1v3h-1zM683 206h1v2h-1zM684 205h1v3h-1zM685 205h1v2h-1zM686 204h2v2h-2zM688 203h1v3h-1zM689 203h1v2h-1zM690 202h1v3h-1zM691 202h1v2h-1zM692 201h1v3h-1zM693 201h1v2h-1zM694 200h1v3h-1zM695 200h1v2h-1zM696 199h1v2h-1zM697 198h1v3h-1zM698 197h1v3h-1zM699 197h1v2h-1zM700 196h1v3h-1zM701 195h1v3h-1zM702 195h1v2h-1zM703 194h1v2h-1zM704 193h1v3h-1zM705 192h1v3h-1zM706 192h1v2h-1zM707 191h1v3h-1zM708 190h1v3h-1zM709 190h1v2h-1zM710 189h1v3h-1zM711 188h1v3h-1zM712 188h1v2h-1zM713 187h1v3h-1zM714 186h1v3h-1zM715 186h1v2h-1zM716 185h1v3h-1zM717 185h1v2h-1zM718 184h1v2h-1zM719 183h1v3h-1zM720 183h1v2h-1zM721 182h1v3h-1zM722 181h1v3h-1zM723 181h1v2h-1zM724 180h1v3h-1zM725 179h1v3h-1zM726 179h1v2h-1zM727 178h1v3h-1zM728 178h1v2h-1zM729 177h1v2h-1zM730 176h1v3h-1zM731 176h1v2h-1zM732 175h1v2h-1zM733 174h1v3h-1zM734 174h1v2h-1zM735 173h1v3h-1zM736 173h1v2h-1zM737 172h1v3h-1zM738 171h1v3h-1zM739 171h1v2h-1zM740 170h1v3h-1zM741 170h1v2h-1zM742 169h1v3h-1zM743 169h1v2h-1zM744 168h1v2h-1zM745 167h1v3h-1zM746 166h1v3h-1zM747 165h1v3h-1zM748 164h1v3h-1zM749 163h1v3h-1zM750 162h1v3h-1zM751 161h1v3h-1zM752 160h1v3h-1zM753 159h1v3h-1zM754 158h1v3h-1zM755 157h1v3h-1zM756 156h1v3h-1zM757 156h1v2h-1zM758 155h1v2h-1zM759 154h1v3h-1zM760 154h1v2h-1zM761 153h1v2h-1zM762 152h1v3h-1zM763 152h1v2h-1zM764 151h1v2h-1zM765 150h1v3h-1zM766 149h1v3h-1zM767 149h1v2h-1zM768 148h1v2h-1zM769 147h1v3h-1zM770 146h1v3h-1zM771 145h1v3h-1zM772 144h1v3h-1zM773 143h1v2h-1zM774 141h1v3h-1zM775 141h1v2h-1z"/>
<g class="c">
<rect x="3" y="432" width="2" height="3" fill="#696969"/>
<rect x="6" y="432" width="3" height="3" fill="#696969"/>
<rect x="10" y="432" width="3" height="4" fill="#696969"/>
<rect x="14" y="432" width="3" height="6" fill="#696969"/>
<rect x="18" y="432" width="3" height="10" fill="#696969"/>
<rect x="22" y="432" width="3" height="15" fill="#696969"/>
<rect x="26" y="432" width="3" height="16" fill="#696969"/>
<rect x="30" y="432" width="3" height="16" fill="#696969"/>
<rect x="34" y="432" width="3" height="17" fill="#696969"/>
<rect x="38" y="432" width="3" height="17" fill="#696969"/>
<rect x="42" y="432" width="3" height="17" fill="#696969"/>
<rect x="46" y="432" width="3" height="17" fill="#696969"/>
<rect x="50" y="432" width="3" height="16" fill="#696969"/>
<rect x="54" y="432" width="3" height="15" fill="#696969"/>
<rect x="58" y="432" width="3" height="13" fill="#696969"/>
<rect x="62" y="432" width="3" height="6" fill="#696969"/>
<rect x="66" y="429" width="3" height="3" fill="#696969"/>
<rect x="70" y="424" width="3" height="8" fill="#696969"/>
<rect x="74" y="420" width="3" height="12" fill="#696969"/>
<rect x="78" y="416" width="3" height="16" fill="#696969"/>
<rect x="82" y="414" width="3" height="18" fill="#696969"/>
<rect x="86" y="414" width="3" height="18" fill="#696969"/>
<rect x="90" y="414" width="3" height="18" fill="#696969"/>
<rect x="94" y="412" width="3" height="20" fill="#696969"/>
<rect x="98" y="412" width="3" height="20" fill="#696969"/>
<rect x="102" y="407" width="3" height="25" fill="#696969"/>
<rect x="106" y="407" width="3" height="25" fill="#696969"/>
<rect x="110" y="405" width="3" height="27" fill="#696969"/>
<rect x="114" y="409" width="3" height="23" fill="#696969"/>
<rect x="118" y="412" width="3" height="20" fill="#696969"/>
<rect x="122" y="414" width="3" height="18" fill="#696969"/>
<rect x="126" y="414" width="3" height="18" fill="#696969"/>
<rect x="130" y="418" width="3" height="14" fill="#696969"/>
<rect x="134" y="420" width="3" height="12" fill="#696969"/>
<rect x="138" y="423" width="3" height="9" fill="#696969"/>
<rect x="142" y="429" width="3" height="3" fill="#696969"/>
<rect x="146" y="432" width="3" height="4" fill="#696969"/>
<rect x="150" y="432" width="3" height="8" fill="#696969"/>
<rect x="154" y="432" width="3" height="12" fill="#696969"/>
<rect x="158" y="432" width="3" height="13" fill="#696969"/>
<rect x="162" y="432" width="3" height="12" fill="#696969"/>
<rect x="166" y="432" width="3" height="12" fill="#696969"/>
<rect x="170" y="432" width="3" height="12" fill="#696969"/>
<rect x="174" y="432" width="3" height="14" fill="#696969"/>
<rect x="178" y="432" width="3" height="14" fill="#696969"/>
<rect x="182" y="432" width="3" height="14" fill="#696969"/>
<rect x="186" y="432" width="3" height="15" fill="#696969"/>
<rect x="190" y="432" width="3" height="15" fill="#696969"/>
<rect x="194" y="432" width="3" height="15" fill="#696969"/>
<rect x="198" y="432" width="3" height="16" fill="#696969"/>
<rect x="202" y="432" width="3" height="15" fill="#696969"/>
<rect x="206" y="432" width="3" height="15" fill="#696969"/>
<rect x="210" y="432" width="3" height="14" fill="#696969"/>
<rect x="214" y="432" width="3" height="14" fill="#696969"/>
<rect x="218" y="432" width="3" height="13" fill="#696969"/>
<rect x="222" y="432" width="3" height="12" fill="#696969"/>
<rect x="226" y="432" width="3" height="12" fill="#696969"/>
<rect x="230" y="432" width="3" height="10" fill="#696969"/>
<rect x="234" y="432" width="3" height="9" fill="#696969"/>
<rect x="238" y="432" width="3" height="7" fill="#696969"/>
<rect x="242" y="432" width="3" height="4" fill="#696969"/>
<rect x="246" y="432" width="3" height="3" fill="#696969"/>
<rect x="250" y="432" width="3" height="3" fill="#696969"/>
<rect x="254" y="432" width="3" height="4" fill="#696969"/>
<rect x="258" y="432" width="3" height="6" fill="#696969"/>
<rect x="262" y="432" width="3" height="6" fill="#696969"/>
<rect x="266" y="432" width="3" height="4" fill="#696969"/>
<rect x="270" y="432" width="3" height="4" fill="#696969"/>
<rect x="274" y="432" width="3" height="4" fill="#696969"/>
<rect x="278" y="432" width="3" height="3" fill="#696969"/>
<rect x="282" y="432" width="3" height="1" fill="#696969"/>
<rect x="286" y="432" width="3" height="1" fill="#696969"/>
<rect x="290" y="432" width="3" height="1" fill="#696969"/>
<rect x="294" y="432" width="3" height="6" fill="#696969"/>
<rect x="298" y="432" width="3" height="8" fill="#696969"/>
<rect x="302" y="432" width="3" height="12" fill="#696969"/>
<rect x="306" y="432" width="3" height="16" fill="#696969"/>
<rect x="310" y="432" width="3" height="18" fill="#696969"/>
<rect x="314" y="432" width="3" height="19" fill="#696969"/>
<rect x="318" y="432" width="3" height="20" fill="#696969"/>
<rect x="322" y="432" width="3" height="20" fill="#696969"/>
<rect x="326" y="432" width="3" height="19" fill="#696969"/>
<rect x="330" y="432" width="3" height="16" fill="#696969"/>
<rect x="334" y="432" width="3" height="15" fill="#696969"/>
<rect x="338" y="432" width="3" height="12" fill="#696969"/>
<rect x="342" y="432" width="3" height="11" fill="#696969"/>
<rect x="346" y="432" width="3" height="9" fill="#696969"/>
<rect x="350" y="432" width="3" height="8" fill="#696969"/>
<rect x="354" y="432" width="3" height="11" fill="#696969"/>
<rect x="358" y="432" width="3" height="12" fill="#696969"/>
<rect x="362" y="432" width="3" height="11" fill="#696969"/>
<rect x="366" y="432" width="3" height="11" fill="#696969"/>
<rect x="370" y="432" width="3" height="10" fill="#696969"/>
<rect x="374" y="432" width="3" height="8" fill="#696969"/>
<rect x="378" y="432" width="3" height="8" fill="#696969"/>
<rect x="382" y="432" width="3" height="7" fill="#696969"/>
<rect x="386" y="432" width="3" height="6" fill="#696969"/>
<rect x="390" y="432" width="3" height="3" fill="#696969"/>
<rect x="394" y="432" width="3" height="2" fill="#696969"/>
<rect x="398" y="432" width="3" height="1" fill="#696969"/>
<rect x="402" y="430" width="3" height="2" fill="#696969"/>
<rect x="406" y="430" width="3" height="2" fill="#696969"/>
<rect x="410" y="430" width="3" height="2" fill="#696969"/>
<rect x="414" y="428" width="3" height="4" fill="#696969"/>
<rect x="418" y="427" width="3" height="5" fill="#696969"/>
<rect x="422" y="426" width="3" height="6" fill="#696969"/>
<rect x="426" y="423" width="3" height="9" fill="#696969"/>
<rect x="430" y="423" width="3" height="9" fill="#696969"/>
<rect x="434" y="421" width="3" height="11" fill="#696969"/>
<rect x="438" y="413" width="3" height="19" fill="#696969"/>
<rect x="442" y="406" width="3" height="26" fill="#696969"/>
<rect x="446" y="398" width="3" height="34" fill="#696969"/>
<rect x="450" y="393" width="3" height="39" fill="#696969"/>
<rect x="454" y="391" width="3" height="41" fill="#696969"/>
<rect x="458" y="391" width="3" height="41" fill="#696969"/>
<rect x="462" y="390" width="3" height="42" fill="#696969"/>
<rect x="466" y="391" width="3" height="41" fill="#696969"/>
<rect x="470" y="390" width="3" height="42" fill="#696969"/>
<rect x="474" y="389" width="3" height="43" fill="#696969"/>
<rect x="478" y="390" width="3" height="42" fill="#696969"/>
<rect x="482" y="392" width="3" height="40" fill="#696969"/>
<rect x="486" y="394" width="3" height="38" fill="#696969"/>
<rect x="490" y="396" width="3" height="36" fill="#696969"/>
<rect x="494" y="400" width="3" height="32" fill="#696969"/>
<rect x="498" y="404" width="3" height="28" fill="#696969"/>
<rect x="502" y="407" width="3" height="25" fill="#696969"/>
<rect x="506" y="408" width="3" height="24" fill="#696969"/>
<rect x="510" y="408" width="3" height="24" fill="#696969"/>
<rect x="514" y="409" width="3" height="23" fill="#696969"/>
<rect x="518" y="410" width="3" height="22" fill="#696969"/>
<rect x="522" y="414" width="3" height="18" fill="#696969"/>
<rect x="526" y="420" width="3" height="12" fill="#696969"/>
<rect x="530" y="425" width="3" height="7" fill="#696969"/>
<rect x="534" y="429" width="3" height="3" fill="#696969"/>
<rect x="538" y="430" width="3" height="2" fill="#696969"/>
<rect x="542" y="432" width="3" height="1" fill="#696969"/>
<rect x="546" y="432" width="3" height="3" fill="#696969"/>
<rect x="550" y="432" width="3" height="5" fill="#696969"/>
<rect x="554" y="432" width="3" height="5" fill="#696969"/>
<rect x="558" y="432" width="3" height="5" fill="#696969"/>
<rect x="562" y="432" width="3" height="4" fill="#696969"/>
<rect x="566" y="432" width="3" height="4" fill="#696969"/>
<rect x="570" y="432" width="3" height="5" fill="#696969"/>
<rect x="574" y="432" width="3" height="5" fill="#696969"/>
<rect x="578" y="432" width="3" height="2" fill="#696969"/>
<rect x="582" y="431" width="3" height="1" fill="#696969"/>
<rect x="586" y="429" width="3" height="3" fill="#696969"/>
<rect x="590" y="428" width="3" height="4" fill="#696969"/>
<rect x="594" y="424" width="3" height="8" fill="#696969"/>
<rect x="598" y="422" width="3" height="10" fill="#696969"/>
<rect x="602" y="413" width="3" height="19" fill="#696969"/>
<rect x="606" y="407" width="3" height="25" fill="#696969"/>
<rect x="610" y="398" width="3" height="34" fill="#696969"/>
<rect x="614" y="391" width="3" height="41" fill="#696969"/>
<rect x="618" y="388" width="3" height="44" fill="#696969"/>
<rect x="622" y="386" width="3" height="46" fill="#696969"/>
<rect x="626" y="381" width="3" height="51" fill="#696969"/>
<rect x="630" y="379" width="3" height="53" fill="#696969"/>
<rect x="634" y="380" width="3" height="52" fill="#696969"/>
<rect x="638" y="376" width="3" height="56" fill="#696969"/>
<rect x="642" y="373" width="3" height="59" fill="#696969"/>
<rect x="646" y="372" width="3" height="60" fill="#696969"/>
<rect x="650" y="371" width="3" height="61" fill="#696969"/>
<rect x="654" y="372" width="3" height="60" fill="#696969"/>
<rect x="658" y="372" width="3" height="60" fill="#696969"/>
<rect x="662" y="373" width="3" height="59" fill="#696969"/>
<rect x="666" y="377" width="3" height="55" fill="#696969"/>
<rect x="670" y="381" width="3" height="51" fill="#696969"/>
<rect x="674" y="384" width="3" height="48" fill="#696969"/>
<rect x="678" y="381" width="3" height="51" fill="#696969"/>
<rect x="682" y="379" width="3" height="53" fill="#696969"/>
<rect x="686" y="378" width="3" height="54" fill="#696969"/>
<rect x="690" y="378" width="3" height="54" fill="#696969"/>
<rect x="694" y="381" width="3" height="51" fill="#696969"/>
<rect x="698" y="385" width="3" height="47" fill="#696969"/>
<rect x="702" y="385" width="3" height="47" fill="#696969"/>
<rect x="706" y="385" width="3" height="47" fill="#696969"/>
<rect x="710" y="386" width="3" height="46" fill="#696969"/>
<rect x="714" y="389" width="3" height="43" fill="#696969"/>
<rect x="718" y="393" width="3" height="39" fill="#696969"/>
<rect x="722" y="395" width="3" height="37" fill="#696969"/>
<rect x="726" y="401" width="3" height="31" fill="#696969"/>
<rect x="730" y="406" width="3" height="26" fill="#696969"/>
<rect x="734" y="408" width="3" height="24" fill="#696969"/>
<rect x="738" y="412" width="3" height="20" fill="#696969"/>
<rect x="742" y="416" width="3" height="16" fill="#696969"/>
<rect x="746" y="409" width="3" height="23" fill="#696969"/>
<rect x="750" y="406" width="3" height="26" fill="#696969"/>
<rect x="754" y="403" width="3" height="29" fill="#696969"/>
<rect x="758" y="403" width="3" height="29" fill="#696969"/>
<rect x="762" y="405" width="3" height="27" fill="#696969"/>
<rect x="766" y="406" width="3" height="26" fill="#696969"/>
<rect x="770" y="405" width="3" height="27" fill="#696969"/>
<rect x="774" y="394" width="3" height="38" fill="#696969"/>
</g>
<path class="c" fill="#FF0000" d="M3 435h1v1h-1zM4 435h1v1h-1zM5 435h1v1h-1zM6 435h1v1h-1zM7 435h1v1h-1zM8 435h1v1h-1zM9 435h1v1h-1zM10 435h1v1h-1zM11 435h1v1h-1zM12 435h1v1h-1zM13 435h1v1h-1zM14 436h1v1h-1zM15 436h1v1h-1zM16 436h1v1h-1zM17 436h1v1h-1zM18 437h1v1h-1zM19 437h1v1h-1zM20 437h1v1h-1zM21 437h1v1h-1zM22 437h1v1h-1zM23 437h1v1h-1zM24 437h1v1h-1zM25 438h1v1h-1zM26 438h1v1h-1zM27 439h1v1h-1zM28 439h1v1h-1zM29 439h1v1h-1zM30 440h1v1h-1zM31 440h1v1h-1zM32 440h1v1h-1zM33 440h1v1h-1zM34 441h1v1h-1zM35 441h1v1h-1zM36 441h1v1h-1zM37 442h1v1h-1zM38 442h1v1h-1zM39 443h1v1h-1zM40 443h1v1h-1zM41 443h1v1h-1zM42 444h1v1h-1zM43 444h1v1h-1zM44 444h1v1h-1zM45 445h1v1h-1zM46 445h1v1h-1zM47 446h1v1h-1zM48 446h1v1h-1zM49 447h1v1h-1zM50 447h1v1h-1zM51 448h1v1h-1zM52 448h1v1h-1zM53 448h1v1h-1zM54 449h1v1h-1zM55 449h1v1h-1zM56 449h1v1h-1zM57 449h1v1h-1zM58 449h1v1h-1zM59 449h1v1h-1zM60 449h1v1h-1zM61 449h1v1h-1zM62 448h1v1h-1zM63 448h1v1h-1zM64 448h1v1h-1zM65 448h1v1h-1zM66 447h1v1h-1zM67 447h1v1h-1zM68 446h1v1h-1zM69 446h1v1h-1zM70 445h1v1h-1zM71 444h1v1h-1zM72 443h1v1h-1zM73 443h1v1h-1zM74 442h1v1h-1zM75 441h1v1h-1zM76 440h1v1h-1zM77 439h1v1h-1zM78 438h1v1h-1zM79 437h1v1h-1zM80 436h1v1h-1zM81 436h1v1h-1zM82 435h1v1h-1zM83 434h1v1h-1zM84 433h1v1h-1zM85 431h1v2h-1zM86 430h1v1h-1zM87 429h1v1h-1zM88 428h1v1h-1zM89 428h1v1h-1zM90 427h1v1h-1zM91 426h1v1h-1zM92 425h1v1h-1zM93 423h1v2h-1zM94 422h1v1h-1zM95 421h1v1h-1zM96 420h1v1h-1zM97 419h1v1h-1zM98 418h1v1h-1zM99 417h1v1h-1zM100 417h1v1h-1zM101 416h1v1h-1zM102 416h1v1h-1zM103 415h1v1h-1zM104 415h1v1h-1zM105 414h1v1h-1zM106 414h1v1h-1zM107 413h1v1h-1zM108 413h1v1h-1zM109 412h1v1h-1zM110 412h1v1h-1zM111 411h1v1h-1zM112 411h1v1h-1zM113 411h1v1h-1zM114 410h1v1h-1zM115 410h1v1h-1zM116 410h1v1h-1zM117 410h1v1h-1zM118 410h1v1h-1zM119 410h1v1h-1zM120 410h1v1h-1zM121 410h1v1h-1zM122 410h1v1h-1zM123 410h1v1h-1zM124 410h1v1h-1zM125 410h1v1h-1zM126 410h1v1h-1zM127 410h1v1h-1zM128 410h1v1h-1zM129 410h1v1h-1zM130 411h1v1h-1zM131 411h1v1h-1zM132 411h1v1h-1zM133 411h1v1h-1zM134 412h1v1h-1zM135 412h1v1h-1zM136 412h1v1h-1zM137 412h1v1h-1zM138 413h1v1h-1zM139 413h1v1h-1zM140 414h1v1h-1zM141 414h1v1h-1zM142 415h1v1h-1zM143 416h1v1h-1zM144 417h1v1h-1zM145 417h1v1h-1zM146 418h1v1h-1zM147 419h1v1h-1zM148 420h1v1h-1zM149 420h1v1h-1zM150 421h1v1h-1zM151 422h1v1h-1zM152 423h1v1h-1zM153 423h1v1h-1zM154 424h1v1h-1zM155 425h1v1h-1zM156 426h1v1h-1zM157 427h1v1h-1zM158 428h1v1h-1zM159 429h1v1h-1zM160 430h1v1h-1zM161 430h1v1h-1zM162 431h1v1h-1zM163 432h1v1h-1zM164 432h1v1h-1zM165 433h1v1h-1zM166 433h1v1h-1zM167 434h1v1h-1zM168 435h1v1h-1zM169 435h1v1h-1zM170 436h1v1h-1zM171 437h1v1h-1zM172 438h1v1h-1zM173 438h1v1h-1zM174 439h1v1h-1zM175 440h1v1h-1zM176 441h1v1h-1zM177 441h1v1h-1zM178 442h1v1h-1zM179 443h1v1h-1zM180 443h1v1h-1zM181 443h1v1h-1zM182 444h1v1h-1zM183 444h1v1h-1zM184 444h1v1h-1zM185 444h1v1h-1zM186 444h1v1h-1zM187 444h1v1h-1zM188 444h1v1h-1zM189 444h1v1h-1zM190 444h1v1h-1zM191 444h1v1h-1zM192 444h1v1h-1zM193 444h1v1h-1zM194 445h1v1h-1zM195 445h1v1h-1zM196 445h1v1h-1zM197 445h1v1h-1zM198 445h1v1h-1zM199 445h1v1h-1zM200 445h1v1h-1zM201 445h1v1h-1zM202 446h1v1h-1zM203 446h1v1h-1zM204 446h1v1h-1zM205 446h1v1h-1zM206 446h1v1h-1zM207 446h1v1h-1zM208 446h1v1h-1zM209 446h1v1h-1zM210 446h1v1h-1zM211 446h1v1h-1zM212 446h1v1h-1zM213 446h1v1h-1zM214 446h1v1h-1zM215 446h1v1h-1zM216 446h1v1h-1zM217 446h1v1h-1zM218 446h1v1h-1zM219 446h1v1h-1zM220 446h1v1h-1zM221 446h1v1h-1zM222 446h1v1h-1zM223 446h1v1h-1zM224 446h1v1h-1zM225 446h1v1h-1zM226 446h1v1h-1zM227 446h1v1h-1zM228 446h1v1h-1zM229 446h1v1h-1zM230 445h1v1h-1zM231 445h1v1h-1zM232 445h1v1h-1zM233 445h1v1h-1zM234 445h1v1h-1zM235 445h1v1h-1zM236 445h1v1h-1zM237 444h1v1h-1zM238 444h1v1h-1zM239 443h1v1h-1zM240 443h1v1h-1zM241 443h1v1h-1zM242 442h1v1h-1zM243 442h1v1h-1zM244 442h1v1h-1zM245 441h1v1h-1zM246 441h1v1h-1zM247 440h1v1h-1zM248 440h1v1h-1zM249 440h1v1h-1zM250 439h1v1h-1zM251 439h1v1h-1zM252 439h1v1h-1zM253 439h1v1h-1zM254 438h1v1h-1zM255 438h1v1h-1zM256 438h1v1h-1zM257 438h1v1h-1zM258 437h1v1h-1zM259 437h1v1h-1zM260 437h1v1h-1zM261 437h1v1h-1zM262 437h1v1h-1zM263 437h1v1h-1zM264 437h1v1h-1zM265 437h1v1h-1zM266 436h1v1h-1zM267 436h1v1h-1zM268 436h1v1h-1zM269 436h1v1h-1zM270 436h1v1h-1zM271 436h1v1h-1zM272 436h1v1h-1zM273 436h1v1h-1zM274 436h1v1h-1zM275 436h1v1h-1zM276 436h1v1h-1zM277 436h1v1h-1zM278 435h1v1h-1zM279 435h1v1h-1zM280 435h1v1h-1zM281 435h1v1h-1zM282 435h1v1h-1zM283 435h1v1h-1zM284 435h1v1h-1zM285 435h1v1h-1zM286 435h1v1h-1zM287 435h1v1h-1zM288 435h1v1h-1zM289 435h1v1h-1zM290 435h1v1h-1zM291 435h1v1h-1zM292 435h1v1h-1zM293 435h1v1h-1zM294 435h1v1h-1zM295 435h1v1h-1zM296 435h1v1h-1zM297 435h1v1h-1zM298 435h1v1h-1zM299 435h1v1h-1zM300 435h1v1h-1zM301 435h1v1h-1zM302 435h1v1h-1zM303 435h1v1h-1zM304 435h1v1h-1zM305 436h1v1h-1zM306 436h1v1h-1zM307 437h1v1h-1zM308 437h1v1h-1zM309 437h1v1h-1zM310 438h1v1h-1zM311 438h1v1h-1zM312 438h1v1h-1zM313 438h1v1h-1zM314 439h1v1h-1zM315 439h1v1h-1zM316 439h1v1h-1zM317 440h1v1h-1zM318 440h1v1h-1zM319 441h1v1h-1zM320 441h1v1h-1zM321 442h1v1h-1zM322 442h1v1h-1zM323 443h1v1h-1zM324 443h1v1h-1zM325 444h1v1h-1zM326 444h1v1h-1zM327 445h1v1h-1zM328 445h1v1h-1zM329 446h1v1h-1zM330 446h1v1h-1zM331 447h1v1h-1zM332 447h1v1h-1zM333 447h1v1h-1zM334 448h1v1h-1zM335 448h1v1h-1zM336 448h1v1h-1zM337 448h1v1h-1zM338 448h1v1h-1zM339 448h1v1h-1zM340 448h1v1h-1zM341 448h1v1h-1zM342 448h1v1h-1zM343 448h1v1h-1zM344 448h1v1h-1zM345 448h1v1h-1zM346 447h1v1h-1zM347 447h1v1h-1zM348 447h1v1h-1zM349 447h1v1h-1zM350 446h1v1h-1zM351 446h1v1h-1zM352 446h1v1h-1zM353 446h1v1h-1zM354 445h1v1h-1zM355 445h1v1h-1zM356 445h1v1h-1zM357 444h1v1h-1zM358 444h1v1h-1zM359 443h1v1h-1zM360 443h1v1h-1zM361 443h1v1h-1zM362 443h1v1h-1zM363 443h1v1h-1zM364 443h1v1h-1zM365 443h1v1h-1zM366 442h1v1h-1zM367 442h1v1h-1zM368 442h1v1h-1zM369 442h1v1h-1zM370 442h1v1h-1zM371 442h1v1h-1zM372 442h1v1h-1zM373 442h1v1h-1zM374 441h1v1h-1zM375 441h1v1h-1zM376 441h1v1h-1zM377 441h1v1h-1zM378 441h1v1h-1zM379 441h1v1h-1zM380 441h1v1h-1zM381 441h1v1h-1zM382 441h1v1h-1zM383 441h1v1h-1zM384 441h1v1h-1zM385 441h1v1h-1zM386 440h1v1h-1zM387 440h1v1h-1zM388 440h1v1h-1zM389 440h1v1h-1zM390 440h1v1h-1zM391 440h1v1h-1zM392 440h1v1h-1zM393 440h1v1h-1zM394 439h1v1h-1zM395 439h1v1h-1zM396 439h1v1h-1zM397 438h1v1h-1zM398 438h1v1h-1zM399 437h1v1h-1zM400 437h1v1h-1zM401 437h1v1h-1zM402 436h1v1h-1zM403 436h1v1h-1zM404 436h1v1h-1zM405 435h1v1h-1zM406 435h1v1h-1zM407 434h1v1h-1zM408 434h1v1h-1zM409 434h1v1h-1zM410 433h1v1h-1zM411 433h1v1h-1zM412 433h1v1h-1zM413 433h1v1h-1zM414 432h1v1h-1zM415 432h1v1h-1zM416 432h1v1h-1zM417 432h1v1h-1zM418 431h1v1h-1zM419 431h1v1h-1zM420 431h1v1h-1zM421 431h1v1h-1zM422 430h1v1h-1zM423 430h1v1h-1zM424 430h1v1h-1zM425 430h1v1h-1zM426 429h1v1h-1zM427 429h1v1h-1zM428 429h1v1h-1zM429 429h1v1h-1zM430 428h1v1h-1zM431 428h1v1h-1zM432 428h1v1h-1zM433 427h1v1h-1zM434 427h1v1h-1zM435 426h1v1h-1zM436 426h1v1h-1zM437 425h1v1h-1zM438 425h1v1h-1zM439 424h1v1h-1zM440 424h1v1h-1zM441 423h1v1h-1zM442 423h1v1h-1zM443 422h1v1h-1zM444 421h1v1h-1zM445 420h1v1h-1zM446 419h1v1h-1zM447 418h1v1h-1zM448 417h1v1h-1zM449 416h1v1h-1zM450 415h1v1h-1zM451 414h1v1h-1zM452 413h1v1h-1zM453 412h1v1h-1zM454 411h1v1h-1zM455 410h1v1h-1zM456 409h1v1h-1zM457 408h1v1h-1zM458 407h1v1h-1zM459 406h1v1h-1zM460 405h1v1h-1zM461 405h1v1h-1zM462 404h1v1h-1zM463 403h1v1h-1zM464 402h1v1h-1zM465 401h1v1h-1zM466 400h1v1h-1zM467 399h1v1h-1zM468 398h1v1h-1zM469 398h1v1h-1zM470 397h1v1h-1zM471 396h1v1h-1zM472 395h1v1h-1zM473 395h1v1h-1zM474 394h1v1h-1zM475 393h1v1h-1zM476 393h1v1h-1zM477 392h1v1h-1zM478 392h1v1h-1zM479 391h1v1h-1zM480 391h1v1h-1zM481 391h1v1h-1zM482 391h1v1h-1zM483 391h1v1h-1zM484 391h1v1h-1zM485 391h1v1h-1zM486 391h1v1h-1zM487 391h1v1h-1zM488 391h1v1h-1zM489 391h1v1h-1zM490 391h1v1h-1zM491 391h1v1h-1zM492 391h1v1h-1zM493 391h1v1h-1zM494 392h1v1h-1zM495 392h1v1h-1zM496 392h1v1h-1zM497 393h1v1h-1zM498 393h1v1h-1zM499 394h1v1h-1zM500 394h1v1h-1zM501 395h1v1h-1zM502 395h1v1h-1zM503 396h1v1h-1zM504 396h1v1h-1zM505 397h1v1h-1zM506 397h1v1h-1zM507 398h1v1h-1zM508 398h1v1h-1zM509 399h1v1h-1zM510 399h1v1h-1zM511 400h1v1h-1zM512 400h1v1h-1zM513 401h1v1h-1zM514 401h1v1h-1zM515 402h1v1h-1zM516 402h1v1h-1zM517 402h1v1h-1zM518 403h1v1h-1zM519 403h1v1h-1zM520 403h1v1h-1zM521 404h1v1h-1zM522 404h1v1h-1zM523 405h1v1h-1zM524 406h1v1h-1zM525 406h1v1h-1zM526 407h1v1h-1zM527 408h1v1h-1zM528 409h1v1h-1zM529 410h1v1h-1zM530 411h1v1h-1zM531 412h1v1h-1zM532 412h1v1h-1zM533 413h1v1h-1zM534 413h1v1h-1zM535 414h1v1h-1zM536 415h1v1h-1zM537 415h1v1h-1zM538 416h1v1h-1zM539 417h1v1h-1zM540 418h1v1h-1zM541 418h1v1h-1zM542 419h1v1h-1zM543 420h1v1h-1zM544 421h1v1h-1zM545 421h1v1h-1zM546 422h1v1h-1zM547 423h1v1h-1zM548 424h1v1h-1zM549 424h1v1h-1zM550 425h1v1h-1zM551 426h1v1h-1zM552 426h1v1h-1zM553 427h1v1h-1zM554 427h1v1h-1zM555 428h1v1h-1zM556 428h1v1h-1zM557 429h1v1h-1zM558 429h1v1h-1zM559 430h1v1h-1zM560 430h1v1h-1zM561 431h1v1h-1zM562 431h1v1h-1zM563 432h1v1h-1zM564 432h1v1h-1zM565 432h1v1h-1zM566 433h1v1h-1zM567 433h1v1h-1zM568 433h1v1h-1zM569 433h1v1h-1zM570 434h1v1h-1zM571 434h1v1h-1zM572 434h1v1h-1zM573 434h1v1h-1zM574 434h1v1h-1zM575 434h1v1h-1zM576 434h1v1h-1zM577 434h1v1h-1zM578 434h1v1h-1zM579 434h1v1h-1zM580 434h1v1h-1zM581 434h1v1h-1zM582 434h1v1h-1zM583 434h1v1h-1zM584 434h1v1h-1zM585 434h1v1h-1zM586 433h1v1h-1zM587 433h1v1h-1zM588 433h1v1h-1zM589 433h1v1h-1zM590 433h1v1h-1zM591 433h1v1h-1zM592 433h1v1h-1zM593 432h1v1h-1zM594 432h1v1h-1zM595 431h1v1h-1zM596 431h1v1h-1zM597 430h1v1h-1zM598 430h1v1h-1zM599 429h1v1h-1zM600 429h1v1h-1zM601 428h1v1h-1zM602 428h1v1h-1zM603 427h1v1h-1zM604 426h1v1h-1zM605 425h1v1h-1zM606 424h1v1h-1zM607 423h1v1h-1zM608 422h1v1h-1zM609 422h1v1h-1zM610 421h1v1h-1zM611 420h1v1h-1zM612 419h1v1h-1zM613 418h1v1h-1zM614 417h1v1h-1zM615 416h1v1h-1zM616 414h1v2h-1zM617 413h1v1h-1zM618 411h1v2h-1zM619 410h1v1h-1zM620 409h1v1h-1zM621 407h1v2h-1zM622 406h1v1h-1zM623 405h1v1h-1zM624 404h1v1h-1zM625 402h1v2h-1zM626 401h1v1h-1zM627 400h1v1h-1zM628 399h1v1h-1zM629 397h1v2h-1zM630 396h1v1h-1zM631 395h1v1h-1zM632 394h1v1h-1zM633 392h1v2h-1zM634 391h1v1h-1zM635 390h1v1h-1zM636 389h1v1h-1zM637 387h1v2h-1zM638 386h1v1h-1zM639 385h1v1h-1zM640 384h1v1h-1zM641 384h1v1h-1zM642 383h1v1h-1zM643 382h1v1h-1zM644 381h1v1h-1zM645 381h1v1h-1zM646 380h1v1h-1zM647 379h1v1h-1zM648 379h1v1h-1zM649 378h1v1h-1zM650 378h1v1h-1zM651 377h1v1h-1zM652 377h1v1h-1zM653 377h1v1h-1zM654 376h1v1h-1zM655 376h1v1h-1zM656 376h1v1h-1zM657 375h1v1h-1zM658 375h1v1h-1zM659 374h1v1h-1zM660 374h1v1h-1zM661 374h1v1h-1zM662 373h1v1h-1zM663 373h1v1h-1zM664 373h1v1h-1zM665 373h1v1h-1zM666 373h1v1h-1zM667 373h1v1h-1zM668 373h1v1h-1zM669 373h1v1h-1zM670 373h1v1h-1zM671 373h1v1h-1zM672 373h1v1h-1zM673 374h1v1h-1zM674 374h1v1h-1zM675 375h1v1h-1zM676 375h1v1h-1zM677 375h1v1h-1zM678 376h1v1h-1zM679 376h1v1h-1zM680 376h1v1h-1zM681 376h1v1h-1zM682 377h1v1h-1zM683 377h1v1h-1zM684 377h1v1h-1zM685 377h1v1h-1zM686 377h1v1h-1zM687 377h1v1h-1zM688 377h1v1h-1zM689 377h1v1h-1zM690 377h1v1h-1zM691 377h1v1h-1zM692 377h1v1h-1zM693 378h1v1h-1zM694 378h1v1h-1zM695 379h1v1h-1zM696 379h1v1h-1zM697 379h1v1h-1zM698 380h1v1h-1zM699 380h1v1h-1zM700 380h1v1h-1zM701 380h1v1h-1zM702 381h1v1h-1zM703 381h1v1h-1zM704 381h1v1h-1zM705 381h1v1h-1zM706 382h1v1h-1zM707 382h1v1h-1zM708 382h1v1h-1zM709 382h1v1h-1zM710 382h1v1h-1zM711 382h1v1h-1zM712 382h1v1h-1zM713 382h1v1h-1zM714 383h1v1h-1zM715 383h1v1h-1zM716 383h1v1h-1zM717 384h1v1h-1zM718 384h1v1h-1zM719 385h1v1h-1zM720 385h1v1h-1zM721 385h1v1h-1zM722 386h1v1h-1zM723 386h1v1h-1zM724 386h1v1h-1zM725 387h1v1h-1zM726 387h1v1h-1zM727 388h1v1h-1zM728 389h1v1h-1zM729 389h1v1h-1zM730 390h1v1h-1zM731 391h1v1h-1zM732 392h1v1h-1zM733 392h1v1h-1zM734 393h1v1h-1zM735 394h1v1h-1zM736 395h1v1h-1zM737 395h1v1h-1zM738 396h1v1h-1zM739 397h1v1h-1zM740 398h1v1h-1zM741 398h1v1h-1zM742 399h1v1h-1zM743 400h1v1h-1zM744 400h1v1h-1zM745 401h1v1h-1zM746 401h1v1h-1zM747 402h1v1h-1zM748 402h1v1h-1zM749 403h1v1h-1zM750 403h1v1h-1zM751 404h1v1h-1zM752 404h1v1h-1zM753 405h1v1h-1zM754 405h1v1h-1zM755 406h1v1h-1zM756 406h1v1h-1zM757 406h1v1h-1zM758 407h1v1h-1zM759 407h1v1h-1zM760 407h1v1h-1zM761 407h1v1h-1zM762 407h1v1h-1zM763 407h1v1h-1zM764 407h1v1h-1zM765 407h1v1h-1zM766 408h1v1h-1zM767 408h1v1h-1zM768 408h1v1h-1zM769 408h1v1h-1zM770 407h1v1h-1zM771 407h1v1h-1zM772 407h1v1h-1zM773 406h1v1h-1zM774 406h1v1h-1zM775 405h1v1h-1z"/>
<g class="c">
<rect x="2" y="2" width="872" height="1" fill="#000"/>
<rect x="2" y="364" width="872" height="1" fill="#000"/>
<rect x="2" y="366" width="872" height="1" fill="#000"/>
<rect x="2" y="456" width="872" height="1" fill="#000"/>
<rect x="2" y="2" width="1" height="455" fill="#000"/>
<rect x="873" y="2" width="1" height="455" fill="#000"/>
<rect x="874" y="10" width="2" height="1" fill="#000"/>
<rect x="874" y="45" width="2" height="1" fill="#000"/>
<rect x="874" y="79" width="2" height="1" fill="#000"/>
<rect x="874" y="114" width="2" height="1" fill="#000"/>
<rect x="874" y="149" width="2" height="1" fill="#000"/>
<rect x="874" y="184" width="2" height="1" fill="#000"/>
<rect x="874" y="218" width="2" height="1" fill="#000"/>
<rect x="874" y="253" width="2" height="1" fill="#000"/>
<rect x="874" y="288" width="2" height="1" fill="#000"/>
<rect x="874" y="322" width="2" height="1" fill="#000"/>
<rect x="874" y="357" width="2" height="1" fill="#000"/>
<rect x="874" y="368" width="1" height="1" fill="#000"/>
<rect x="874" y="432" width="1" height="1" fill="#000"/>
<rect x="874" y="455" width="1" height="1" fill="#000"/>
<rect x="3" y="457" width="1" height="3" fill="#000"/>
<rect x="67" y="457" width="1" height="3" fill="#000"/>
<rect x="131" y="457" width="1" height="3" fill="#000"/>
<rect x="195" y="457" width="1" height="3" fill="#000"/>
<rect x="259" y="457" width="1" height="3" fill="#000"/>
<rect x="323" y="457" width="1" height="3" fill="#000"/>
<rect x="387" y="457" width="1" height="3" fill="#000"/>
<rect x="451" y="457" width="1" height="3" fill="#000"/>
<rect x="515" y="457" width="1" height="3" fill="#000"/>
<rect x="579" y="457" width="1" height="3" fill="#000"/>
<rect x="643" y="457" width="1" height="3" fill="#000"/>
<rect x="707" y="457" width="1" height="3" fill="#000"/>
<rect x="771" y="457" width="1" height="3" fill="#000"/>
<rect x="875" y="27" width="36" height="11" fill="#000"/>
</g>
<text x="879" y="13.3" textLength="28.5" lengthAdjust="spacingAndGlyphs">0.9445</text>
<text x="879" y="48.3" textLength="28.5" lengthAdjust="spacingAndGlyphs">0.9420</text>
<text x="879" y="82.3" textLength="28.5" lengthAdjust="spacingAndGlyphs">0.9395</text>
<text x="879" y="117.3" textLength="28.5" lengthAdjust="spacingAndGlyphs">0.9370</text>
<text x="879" y="152.3" textLength="28.5" lengthAdjust="spacingAndGlyphs">0.9345</text>
<text x="879" y="187.3" textLength="28.5" lengthAdjust="spacingAndGlyphs">0.9320</text>
<text x="879" y="221.3" textLength="28.5" lengthAdjust="spacingAndGlyphs">0.9295</text>
<text x="879" y="256.3" textLength="28.5" lengthAdjust="spacingAndGlyphs">0.9270</text>
<text x="879" y="291.3" textLength="28.5" lengthAdjust="spacingAndGlyphs">0.9245</text>
<text x="879" y="325.3" textLength="28.5" lengthAdjust="spacingAndGlyphs">0.9220</text>
<text x="879" y="360.3" textLength="28.5" lengthAdjust="spacingAndGlyphs">0.9195</text>
<text x="879" y="36" textLength="28.5" lengthAdjust="spacingAndGlyphs" style="fill:#fff;stroke:#fff">0.9429</text>
<text x="877" y="377.3" textLength="33.5" lengthAdjust="spacingAndGlyphs">0.00224</text>
<text x="877" y="435.2" textLength="18" lengthAdjust="spacingAndGlyphs">0.00</text>
<text x="877" y="453.2" textLength="37" lengthAdjust="spacingAndGlyphs">-0.00081</text>
<text x="2.5" y="469" textLength="51.7" lengthAdjust="spacingAndGlyphs">31 Mar 2014</text>
<text x="66.5" y="469" textLength="54.8" lengthAdjust="spacingAndGlyphs">31 Mar 17:00</text>
<text x="130.5" y="469" textLength="48.4" lengthAdjust="spacingAndGlyphs">1 Apr 09:00</text>
<text x="194.5" y="469" textLength="48.4" lengthAdjust="spacingAndGlyphs">2 Apr 01:00</text>
<text x="258.5" y="469" textLength="48.4" lengthAdjust="spacingAndGlyphs">2 Apr 17:00</text>
<text x="322.5" y="469" textLength="48.4" lengthAdjust="spacingAndGlyphs">3 Apr 09:00</text>
<text x="386.5" y="469" textLength="48.4" lengthAdjust="spacingAndGlyphs">4 Apr 01:00</text>
<text x="450.5" y="469" textLength="48.4" lengthAdjust="spacingAndGlyphs">4 Apr 17:00</text>
<text x="514.5" y="469" textLength="48.4" lengthAdjust="spacingAndGlyphs">7 Apr 10:00</text>
<text x="578.5" y="469" textLength="48.4" lengthAdjust="spacingAndGlyphs">8 Apr 02:00</text>
<text x="642.5" y="469" textLength="48.4" lengthAdjust="spacingAndGlyphs">8 Apr 18:00</text>
<text x="706.5" y="469" textLength="48.4" lengthAdjust="spacingAndGlyphs">9 Apr 10:00</text>
<text x="770.5" y="469" textLength="53.2" lengthAdjust="spacingAndGlyphs">10 Apr 02:00</text>
<rect x="17" y="5" width="185" height="11" fill="#FFFAFA"/>
<path d="M6 9h7l-3.5 4z" fill="#000"/>
<text x="18.5" y="14" textLength="55" lengthAdjust="spacingAndGlyphs">AUDUSD,H1</text>
<text x="80.5" y="14" textLength="27.5" lengthAdjust="spacingAndGlyphs">0.9389</text>
<text x="111.4" y="14" textLength="27.5" lengthAdjust="spacingAndGlyphs">0.9438</text>
<text x="142.3" y="14" textLength="27.5" lengthAdjust="spacingAndGlyphs">0.9380</text>
<text x="173.2" y="14" textLength="27.5" lengthAdjust="spacingAndGlyphs">0.9429</text>
<text x="7" y="379" textLength="138" lengthAdjust="spacingAndGlyphs">MACD(12,26,9) 0.00130 0.00093</text>
<text x="7" y="452.4" textLength="231" lengthAdjust="spacingAndGlyphs">MetaTrader, © 2001-2014, MetaQuotes Software Corp.</text>
</svg></body></html>
